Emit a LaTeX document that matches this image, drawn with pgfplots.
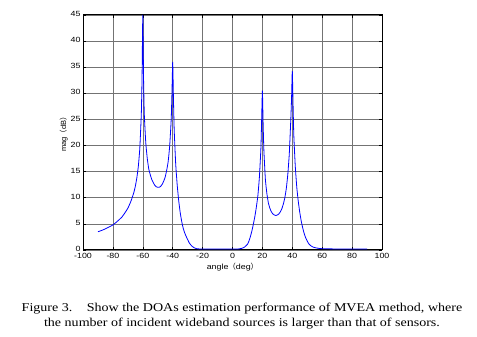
\documentclass[border=0pt]{standalone}
\usepackage{fontspec}
\setmainfont{Liberation Serif}
\newfontfamily\capfont{Liberation Serif}[FakeStretch=1.17]
\newfontfamily\arial{Liberation Sans}[FakeStretch=1.18]
\newfontfamily\arialr{Liberation Sans}
\newfontfamily\cjk{Noto Sans CJK SC}
\usepackage{pgfplots}
\pgfplotsset{compat=1.18}
\begin{document}
\begin{tikzpicture}[x=1pt,y=1pt]
\path[use as bounding box] (0,0) rectangle (477,337);
\begin{axis}[
  at={(83pt,87pt)}, anchor=south west,
  scale only axis, width=299pt, height=235pt,
  xmin=-100, xmax=100, ymin=0, ymax=45,
  xtick={-100,-80,...,100}, ytick={0,5,...,45},
  grid=major,
  major grid style={black!55, line width=0.6pt},
  axis line style={black, line width=1pt},
  tick style={black, line width=0.6pt},
  tick align=inside, major tick length=3pt,
  ticklabel style={font=\arial\fontsize{7.5}{8}\selectfont},
  /pgf/number format/assume math mode=true,
  xlabel={\arial\fontsize{7.5}{8}\selectfont angle{\cjk（}deg{\cjk）}},
  ylabel={\arialr\fontsize{7.5}{8}\selectfont mag{\cjk（}dB{\cjk）}},
  xlabel style={yshift=3pt},
  ylabel style={yshift=-4pt},
  xticklabel style={yshift=0pt},
  yticklabel style={xshift=1pt, yshift=1pt},
]
\addplot[blue, line width=0.8pt, smooth, tension=0.3] coordinates {
(-90,3.5) (-87,3.8) (-84,4.2) (-80,4.8) (-77,5.5) (-74,6.3) (-72,7.1) (-70,8.0)
(-68,9.3) (-66,11.0) (-65,12.2) (-64,13.8) (-63,16.0) (-62,19.5) (-61,26)
(-60.5,33) (-60,45) (-59.5,33) (-59,26) (-58,20.5) (-57,17.5) (-56,15.5)
(-55,14.4) (-54,13.5) (-53,12.9) (-52,12.4) (-51,12.1) (-50,12.0) (-49,12.0)
(-48,12.2) (-47,12.6) (-46,13.2) (-45,14.0) (-44,15.3) (-43,17.0) (-42,20)
(-41,25) (-40.5,30) (-40,36) (-39.5,29) (-39,23) (-38,16.5) (-37,12.5)
(-36,9.5) (-35,7.2) (-34,5.5) (-33,4.2) (-32,3.3) (-31,2.6) (-30,2.0)
(-29,1.4) (-28,1.0) (-27,0.7) (-26,0.5) (-25,0.35) (-24,0.25) (-23,0.22)
(-22,0.2) (-20,0.2) (-10,0.2) (0,0.2) (4,0.2) (5,0.25) (6,0.3) (7,0.4) (8,0.55)
(9,0.8) (10,1.1) (11,1.7) (12,2.6) (13,3.7) (14,5.0) (15,6.5) (16,8.3)
(17,10.5) (18,14) (19,19.5) (19.5,25) (20,30.5) (20.5,24) (21,19) (22,13.5)
(23,10.8) (24,9.0) (25,8.0) (26,7.3) (27,6.9) (28,6.7) (29,6.6) (30,6.7)
(31,6.9) (32,7.3) (33,7.9) (34,8.8) (35,10) (36,11.8) (37,14.5) (38,18.5)
(39,25) (39.5,29) (40,34.3) (40.5,28) (41,22) (42,16) (43,12) (44,9.3)
(45,7.2) (46,5.5) (47,4.2) (48,3.1) (49,2.3) (50,1.7) (51,1.2) (52,0.9)
(53,0.7) (54,0.55) (56,0.4) (58,0.3) (60,0.25) (65,0.22) (70,0.2) (90,0.2)
};
\end{axis}
\node[align=center, font=\capfont\fontsize{12}{15}\selectfont] at (242,21)
 {Figure 3.\hspace{1.2em}Show the DOAs estimation performance of MVEA method, where\\
  the number of incident wideband sources is larger than that of sensors.};
\end{tikzpicture}
\end{document}
